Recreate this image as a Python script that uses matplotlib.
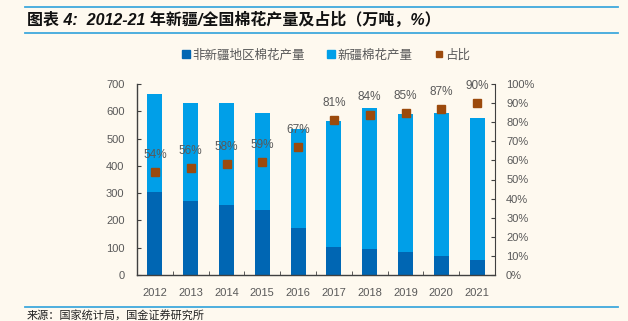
import matplotlib
matplotlib.use("Agg")
import matplotlib.pyplot as plt
from matplotlib.lines import Line2D
from matplotlib.ticker import MultipleLocator, FixedLocator, PercentFormatter

plt.rcParams['font.family'] = ['Liberation Sans', 'Noto Sans CJK SC', 'DejaVu Sans']

years = ['2012', '2013', '2014', '2015', '2016', '2017', '2018', '2019', '2020', '2021']
non_xinjiang = [303, 272, 258, 237, 171, 104, 95, 84, 71, 56]
xinjiang = [359, 357, 373, 355, 364, 461, 516, 506, 521, 518]
share_pct = [54, 56, 58, 59, 67, 81, 84, 85, 87, 90]

bg = '#FEF9EF'
dark_blue = '#0066B3'
light_blue = '#009FE8'
brown = '#9C4A0C'
grey = '#595959'
rule_blue = '#3FA9DD'

fig = plt.figure(figsize=(6.28, 3.21), dpi=100, facecolor=bg)
ax = fig.add_axes([137 / 628, 1 - 275 / 321, 358 / 628, 191 / 321])
ax.set_facecolor(bg)

x = list(range(len(years)))
w = 0.42
ax.bar(x, non_xinjiang, width=w, color=dark_blue, zorder=2)
ax.bar(x, xinjiang, width=w, bottom=non_xinjiang, color=light_blue, zorder=2)

ax.set_xlim(-0.5, len(years) - 0.5)
ax.set_ylim(0, 700)
ax.yaxis.set_major_locator(MultipleLocator(100))
ax.set_xticks(x)
ax.set_xticklabels(years)
ax.xaxis.set_minor_locator(FixedLocator([i + 0.5 for i in range(len(years) - 1)]))
ax.tick_params(axis='x', which='major', length=0, pad=9, labelsize=8, labelcolor=grey)
ax.tick_params(axis='x', which='minor', direction='in', length=3, color='#404040')
ax.tick_params(axis='y', direction='in', length=3, pad=9, labelsize=8, labelcolor=grey, color='#404040')

for side in ('top', 'right'):
    ax.spines[side].set_visible(False)
for side in ('left', 'bottom'):
    ax.spines[side].set_color('#404040')
    ax.spines[side].set_linewidth(1.0)

ax2 = ax.twinx()
ax2.set_ylim(0, 1.0)
ax2.yaxis.set_major_locator(MultipleLocator(0.1))
ax2.yaxis.set_major_formatter(PercentFormatter(1.0, decimals=0))
ax2.tick_params(axis='y', direction='in', length=3, pad=8, labelsize=8, labelcolor=grey, color='#404040')
for side in ('top', 'left', 'bottom'):
    ax2.spines[side].set_visible(False)
ax2.spines['right'].set_color('#404040')

share = [p / 100 for p in share_pct]
ax2.plot(x, share, linestyle='none', marker='s', markersize=6, color=brown, zorder=3)
for xi, s, p in zip(x, share, share_pct):
    ax2.annotate(f'{p}%', (xi, s), xytext=(0, 8), textcoords='offset points',
                 ha='center', va='bottom', fontsize=8.5, color=grey, zorder=4)

handles = [
    Line2D([], [], linestyle='none', marker='s', markersize=6, color=dark_blue),
    Line2D([], [], linestyle='none', marker='s', markersize=6, color=light_blue),
    Line2D([], [], linestyle='none', marker='s', markersize=5, color=brown),
]
labels = ['非新疆地区棉花产量', '新疆棉花产量', '占比']
fig.legend(handles, labels, loc='center', bbox_to_anchor=(326 / 628, 1 - 55 / 321),
           ncol=3, frameon=False, labelcolor=grey,
           handlelength=0.6, handletextpad=0.2, columnspacing=1.8,
           prop={'family': ['Noto Sans CJK SC'], 'size': 9})

# header and footer rules
for yy in (1 - 7 / 321, 1 - 33 / 321, 1 - 307 / 321):
    fig.add_artist(Line2D([25 / 628, 618 / 628], [yy, yy], color=rule_blue, linewidth=1.3))

fig.text(27 / 628, 1 - 20 / 321, '图表 4:  2012-21 年新疆/全国棉花产量及占比（万吨，%）',
         fontsize=11.5, fontweight='bold', style='italic', color='#111111',
         va='center', ha='left', family=['Liberation Sans', 'Noto Sans CJK SC', 'DejaVu Sans'])
fig.text(27 / 628, 1 - 315 / 321, '来源：国家统计局，国金证券研究所',
         fontsize=8, color='#222222', va='center', ha='left',
         family=['Noto Sans CJK SC', 'DejaVu Sans'])

fig.savefig('out.png', dpi=100, facecolor=bg)
